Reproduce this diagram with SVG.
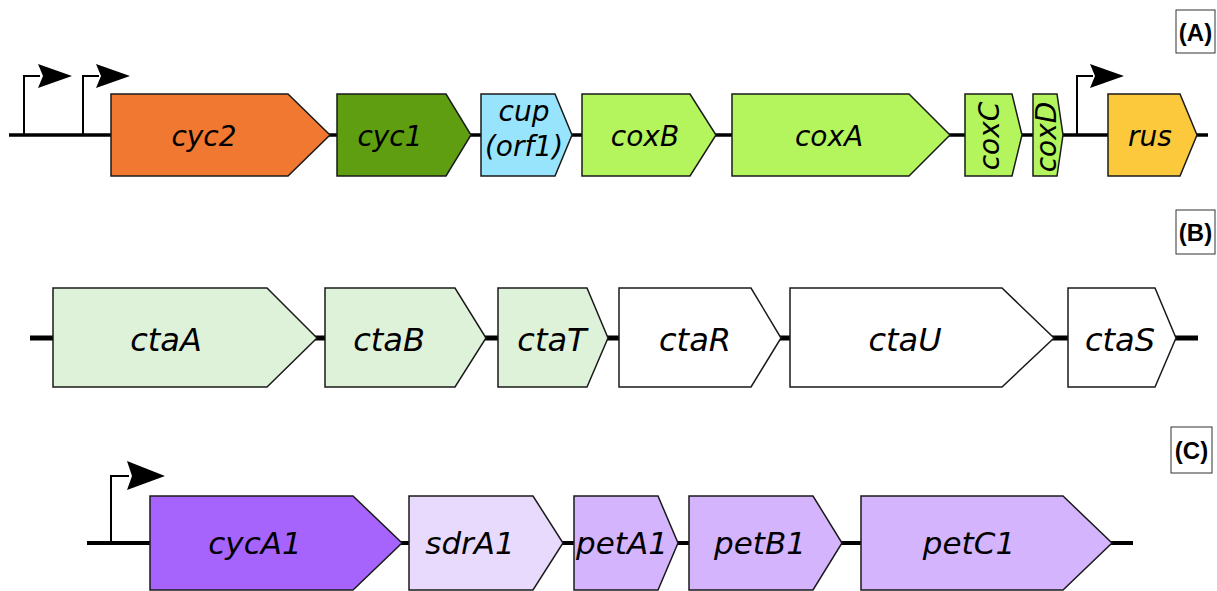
<svg xmlns="http://www.w3.org/2000/svg" width="1217" height="591" viewBox="0 0 1217 591">
<style>
.gene{stroke:#1a1a1a;stroke-width:1.5;stroke-linejoin:miter}
.lbl{font-family:"DejaVu Sans",sans-serif;font-style:italic;fill:#000;text-anchor:middle}
.a{font-size:28px}
.b{font-size:32px}
.c{font-size:31px}
.bb{stroke:#000;fill:none}
.prom{stroke:#000;stroke-width:2;fill:none}
.head{fill:#000}
.tag{fill:#fff;stroke:#333;stroke-width:1}
.tagt{font-family:"Liberation Sans",Arial,sans-serif;font-weight:bold;font-size:24px;text-anchor:middle;fill:#000}
</style>
<rect width="1217" height="591" fill="#fff"/>
<g id="connectors">
<line class="bb" x1="9" y1="135" x2="1208" y2="135" stroke-width="3.5"/>
<line class="bb" x1="30" y1="338" x2="1198" y2="338" stroke-width="5"/>
<line class="bb" x1="87" y1="543" x2="1133" y2="543" stroke-width="4"/>
</g>
<g id="promoter-a1"><polyline class="prom" points="24,135 24,76 40,76"/><polygon class="head" points="72,76 38,64 43,76 38,88"/></g>
<g id="promoter-a2"><polyline class="prom" points="83,135 83,76 99,76"/><polygon class="head" points="130,76 96,64 101,76 96,88"/></g>
<g id="promoter-a3"><polyline class="prom" points="1077,135 1077,76 1093,76"/><polygon class="head" points="1124,76 1090,64 1095,76 1090,88"/></g>
<g id="promoter-c"><polyline class="prom" points="111,543 111,476 129,476"/><polygon class="head" points="165,476 127,461 132,476 127,490"/></g>

<g id="cyc2"><polygon class="gene" fill="#F07830" points="111,94 288,94 330,135 288,176 111,176"/><text class="lbl a" x="204" y="146">cyc2</text></g>
<g id="cyc1"><polygon class="gene" fill="#5E9E10" points="337,94 446,94 471,135 446,176 337,176"/><text class="lbl a" x="390" y="146">cyc1</text></g>
<g id="cup"><polygon class="gene" fill="#98E4FC" points="481,94 555,94 572,135 555,176 481,176"/><text class="lbl a" x="524" y="121">cup</text><text class="lbl a" x="524" y="156">(orf1)</text></g>
<g id="coxB"><polygon class="gene" fill="#B4F45C" points="582,94 690,94 716,135 690,176 582,176"/><text class="lbl a" x="645" y="146">coxB</text></g>
<g id="coxA"><polygon class="gene" fill="#B4F45C" points="732,94 909,94 950,135 909,176 732,176"/><text class="lbl a" x="829" y="146">coxA</text></g>
<g id="coxC"><polygon class="gene" fill="#B4F45C" points="965,94 1012,94 1022,135 1012,176 965,176"/><text class="lbl a" transform="translate(999,136) rotate(-90)" x="0" y="0">coxC</text></g>
<g id="coxD"><polygon class="gene" fill="#B4F45C" points="1033,94 1057,94 1063,135 1057,176 1033,176"/><text class="lbl a" transform="translate(1056,137) rotate(-90)" x="0" y="0">coxD</text></g>
<g id="rus"><polygon class="gene" fill="#FCC83C" points="1108,94 1180,94 1197,135 1180,176 1108,176"/><text class="lbl a" x="1150" y="146">rus</text></g>
<g id="labelA"><rect class="tag" x="1176" y="10" width="39" height="43"/><text class="tagt" x="1195.5" y="41">(A)</text></g>

<g id="ctaA"><polygon class="gene" fill="#DEF2DA" points="53,288 267,288 317,338 267,387 53,387"/><text class="lbl b" x="166" y="351">ctaA</text></g>
<g id="ctaB"><polygon class="gene" fill="#DEF2DA" points="325,288 455,288 486,338 455,387 325,387"/><text class="lbl b" x="389" y="351">ctaB</text></g>
<g id="ctaT"><polygon class="gene" fill="#DEF2DA" points="498,288 587,288 608,338 587,387 498,387"/><text class="lbl b" x="552" y="351">ctaT</text></g>
<g id="ctaR"><polygon class="gene" fill="#FFFFFF" points="619,288 751,288 781,338 751,387 619,387"/><text class="lbl b" x="695" y="351">ctaR</text></g>
<g id="ctaU"><polygon class="gene" fill="#FFFFFF" points="790,288 1002,288 1054,338 1002,387 790,387"/><text class="lbl b" x="905" y="351">ctaU</text></g>
<g id="ctaS"><polygon class="gene" fill="#FFFFFF" points="1068,288 1155,288 1176,338 1155,387 1068,387"/><text class="lbl b" x="1120" y="351">ctaS</text></g>
<g id="labelB"><rect class="tag" x="1176" y="210" width="39" height="44"/><text class="tagt" x="1195.5" y="241">(B)</text></g>

<g id="cycA1"><polygon class="gene" fill="#A764FC" points="150,496 353,496 402,543 353,590 150,590"/><text class="lbl c" x="255" y="554">cycA1</text></g>
<g id="sdrA1"><polygon class="gene" fill="#E8DAFC" points="409,496 533,496 563,543 533,590 409,590"/><text class="lbl c" x="470" y="554">sdrA1</text></g>
<g id="petA1"><polygon class="gene" fill="#D4B4FC" points="574,496 658,496 678,543 658,590 574,590"/><text class="lbl c" x="622" y="554">petA1</text></g>
<g id="petB1"><polygon class="gene" fill="#D4B4FC" points="689,496 813,496 842,543 813,590 689,590"/><text class="lbl c" x="760" y="554">petB1</text></g>
<g id="petC1"><polygon class="gene" fill="#D4B4FC" points="861,496 1063,496 1112,543 1063,590 861,590"/><text class="lbl c" x="969" y="554">petC1</text></g>
<g id="labelC"><rect class="tag" x="1171" y="427" width="41" height="46"/><text class="tagt" x="1191.5" y="459">(C)</text></g>
</svg>
